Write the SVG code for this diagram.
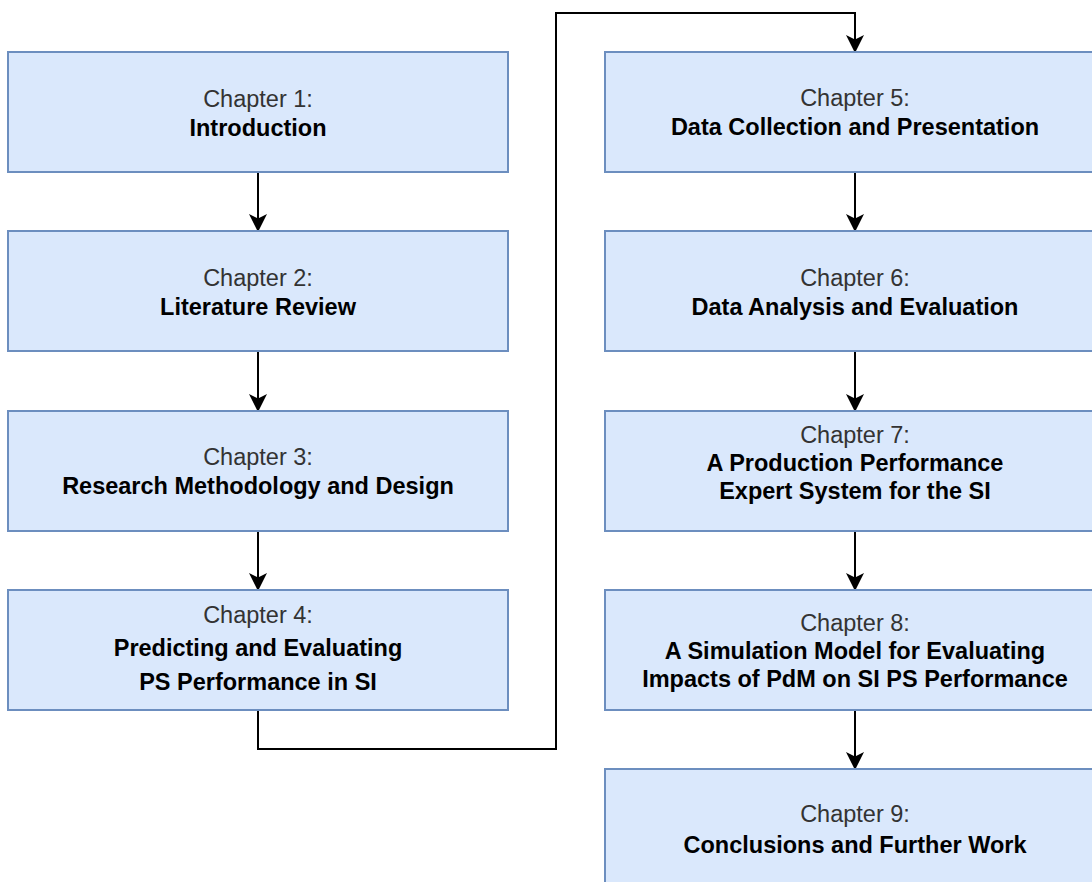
<svg xmlns="http://www.w3.org/2000/svg" width="1092" height="882" viewBox="0 0 1092 882">
  <defs>
    <marker id="arrow" viewBox="0 0 18 18" refX="17" refY="9" markerWidth="18" markerHeight="18" markerUnits="userSpaceOnUse" orient="auto">
      <path d="M18,9 L0,0 L4.5,9 L0,18 Z" fill="#000"/>
    </marker>
    <style>
      .box { fill: #dae8fc; stroke: #6c8ebf; stroke-width: 2; }
      .ch { font-family: "Liberation Sans", Arial, sans-serif; font-size: 23.5px; fill: #333333; text-anchor: middle; }
      .tt { font-family: "Liberation Sans", Arial, sans-serif; font-size: 23.5px; font-weight: bold; fill: #000000; text-anchor: middle; }
      .edge { fill: none; stroke: #000; stroke-width: 2; marker-end: url(#arrow); }
    </style>
  </defs>
  <rect width="1092" height="882" fill="#ffffff"/>

  <!-- connectors -->
  <g id="connectors">
    <path class="edge" d="M258,172 V231"/>
    <path class="edge" d="M258,351 V411"/>
    <path class="edge" d="M258,531 V590"/>
    <path class="edge" d="M258,710 V749 H556 V13 H855 V52"/>
    <path class="edge" d="M855,172 V231"/>
    <path class="edge" d="M855,351 V411"/>
    <path class="edge" d="M855,531 V590"/>
    <path class="edge" d="M855,710 V769"/>
  </g>

  <!-- left column -->
  <g id="ch1">
    <rect class="box" x="8" y="52" width="500" height="120"/>
    <text class="ch" x="258" y="107">Chapter 1:</text>
    <text class="tt" x="258" y="136">Introduction</text>
  </g>
  <g id="ch2">
    <rect class="box" x="8" y="231" width="500" height="120"/>
    <text class="ch" x="258" y="286">Chapter 2:</text>
    <text class="tt" x="258" y="315">Literature Review</text>
  </g>
  <g id="ch3">
    <rect class="box" x="8" y="411" width="500" height="120"/>
    <text class="ch" x="258" y="465">Chapter 3:</text>
    <text class="tt" x="258" y="494">Research Methodology and Design</text>
  </g>
  <g id="ch4">
    <rect class="box" x="8" y="590" width="500" height="120"/>
    <text class="ch" x="258" y="623">Chapter 4:</text>
    <text class="tt" x="258" y="656">Predicting and Evaluating</text>
    <text class="tt" x="258" y="690">PS Performance in SI</text>
  </g>

  <!-- right column -->
  <g id="ch5">
    <rect class="box" x="605" y="52" width="500" height="120"/>
    <text class="ch" x="855" y="106">Chapter 5:</text>
    <text class="tt" x="855" y="135">Data Collection and Presentation</text>
  </g>
  <g id="ch6">
    <rect class="box" x="605" y="231" width="500" height="120"/>
    <text class="ch" x="855" y="286">Chapter 6:</text>
    <text class="tt" x="855" y="315">Data Analysis and Evaluation</text>
  </g>
  <g id="ch7">
    <rect class="box" x="605" y="411" width="500" height="120"/>
    <text class="ch" x="855" y="443">Chapter 7:</text>
    <text class="tt" x="855" y="471">A Production Performance</text>
    <text class="tt" x="855" y="499">Expert System for the SI</text>
  </g>
  <g id="ch8">
    <rect class="box" x="605" y="590" width="500" height="120"/>
    <text class="ch" x="855" y="631">Chapter 8:</text>
    <text class="tt" x="855" y="659">A Simulation Model for Evaluating</text>
    <text class="tt" x="855" y="687">Impacts of PdM on SI PS Performance</text>
  </g>
  <g id="ch9">
    <rect class="box" x="605" y="769" width="500" height="120"/>
    <text class="ch" x="855" y="822">Chapter 9:</text>
    <text class="tt" x="855" y="853">Conclusions and Further Work</text>
  </g>
</svg>
